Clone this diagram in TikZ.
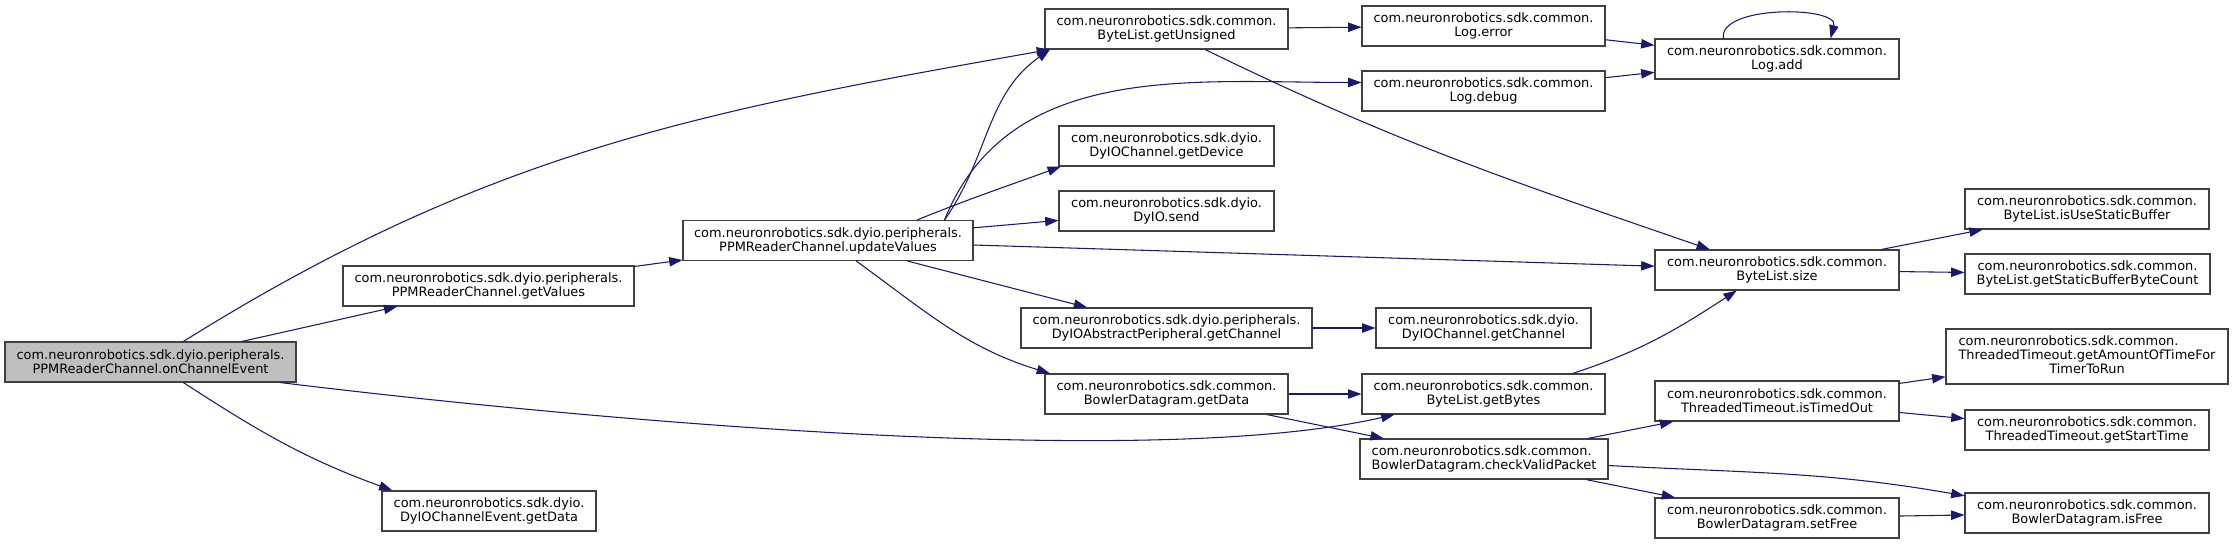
\documentclass[tikz,border=0pt]{standalone}
\usepackage{fontspec}
\setmainfont{DejaVu Sans}
\usetikzlibrary{arrows.meta}

\definecolor{cgedge}{HTML}{191970}
\definecolor{cgframe}{HTML}{404040}
\definecolor{cgroot}{HTML}{BFBFBF}

\begin{document}
\begin{tikzpicture}[
  x=0.75pt, y=0.75pt,
  fn/.style={rectangle, draw=cgframe, line width=0.8pt, fill=white,
             inner sep=0pt, minimum height=30pt, align=center,
             font=\fontsize{9.7}{10.5}\selectfont},
  root/.style={fn, fill=cgroot},
  bw/.style={minimum width=#1*0.75pt},
  call/.style={draw=cgedge, line width=0.8pt,
               -{Triangle[length=10pt, width=7pt]}}]

  \useasboundingbox (0,0) rectangle (2233,-544);

  % ---- caller and its direct callees ------------------------------------
  \node[root, bw=291] (oce) at (150.5,-362)
    {com.neuronrobotics.sdk.dyio.peripherals.\\PPMReaderChannel.onChannelEvent};
  \node[fn, bw=291] (gval) at (488.5,-286)
    {com.neuronrobotics.sdk.dyio.peripherals.\\PPMReaderChannel.getValues};
  \node[fn, bw=214] (evdata) at (489,-511)
    {com.neuronrobotics.sdk.dyio.\\DyIOChannelEvent.getData};
  \node[fn, bw=290] (upd) at (828,-240.5)
    {com.neuronrobotics.sdk.dyio.peripherals.\\PPMReaderChannel.updateValues};

  % ---- called from updateValues -----------------------------------------
  \node[fn, bw=243] (unsig) at (1166.5,-29)
    {com.neuronrobotics.sdk.common.\\ByteList.getUnsigned};
  \node[fn, bw=215] (device) at (1166.5,-146)
    {com.neuronrobotics.sdk.dyio.\\DyIOChannel.getDevice};
  \node[fn, bw=215] (send) at (1166.5,-211)
    {com.neuronrobotics.sdk.dyio.\\DyIO.send};
  \node[fn, bw=291] (abschan) at (1166.5,-328)
    {com.neuronrobotics.sdk.dyio.peripherals.\\DyIOAbstractPeripheral.getChannel};
  \node[fn, bw=243] (bdata) at (1166.5,-394)
    {com.neuronrobotics.sdk.common.\\BowlerDatagram.getData};

  % ---- next level --------------------------------------------------------
  \node[fn, bw=243] (lerr) at (1483.5,-26)
    {com.neuronrobotics.sdk.common.\\Log.error};
  \node[fn, bw=243] (ldbg) at (1483.5,-91)
    {com.neuronrobotics.sdk.common.\\Log.debug};
  \node[fn, bw=215] (chan) at (1483.5,-328)
    {com.neuronrobotics.sdk.dyio.\\DyIOChannel.getChannel};
  \node[fn, bw=243] (bytes) at (1483.5,-394)
    {com.neuronrobotics.sdk.common.\\ByteList.getBytes};
  \node[fn, bw=248, align=left] (valid) at (1484,-459)
    {com.neuronrobotics.sdk.common.\\BowlerDatagram.checkValidPacket};

  \node[fn, bw=244] (ladd) at (1777,-59)
    {com.neuronrobotics.sdk.common.\\Log.add};
  \node[fn, bw=244] (bsize) at (1777,-270)
    {com.neuronrobotics.sdk.common.\\ByteList.size};
  \node[fn, bw=244] (timed) at (1777,-401)
    {com.neuronrobotics.sdk.common.\\ThreadedTimeout.isTimedOut};
  \node[fn, bw=244] (setfree) at (1777,-518)
    {com.neuronrobotics.sdk.common.\\BowlerDatagram.setFree};

  % ---- leaves ------------------------------------------------------------
  \node[fn, bw=244] (static) at (2087,-209)
    {com.neuronrobotics.sdk.common.\\ByteList.isUseStaticBuffer};
  \node[fn, bw=245] (count) at (2087.5,-274)
    {com.neuronrobotics.sdk.common.\\ByteList.getStaticBufferByteCount};
  \node[fn, bw=282, minimum height=41.25pt] (amount) at (2087,-356.5)
    {\begin{tabular}{@{}c@{}}\multicolumn{1}{@{}l@{}}{com.neuronrobotics.sdk.common.}\\
     ThreadedTimeout.getAmountOfTimeFor\\TimerToRun\end{tabular}};
  \node[fn, bw=244] (stime) at (2087,-430)
    {com.neuronrobotics.sdk.common.\\ThreadedTimeout.getStartTime};
  \node[fn, bw=244] (isfree) at (2087,-513)
    {com.neuronrobotics.sdk.common.\\BowlerDatagram.isFree};

  % ---- calls -------------------------------------------------------------
  \draw[call] (oce.32) to[out=32, in=190] (unsig.190);
  \draw[call] (oce) -- (gval);
  \draw[call] (oce.-9) to[out=-7, in=193, looseness=0.6] (bytes.193);
  \draw[call] (oce.-32) to[out=-33, in=160] (evdata.168);
  \draw[call] (gval) -- (upd);

  \draw[call] (upd.10) to[out=55, in=215] (unsig.190);
  \draw[call] (upd.10) to[out=68, in=180] (ldbg.176);
  \draw[call] (upd.13) to[out=22, in=200] (device.191);
  \draw[call] (upd) -- (send);
  \draw[call] (upd) -- (bsize);
  \draw[call] (upd) -- (abschan);
  \draw[call] (upd.-36) to[out=-36, in=163] (bdata.170);

  \draw[call] (unsig) -- (lerr);
  \draw[call] (unsig.-28) to[out=-26, in=161] (bsize.163);
  \draw[call] (lerr) -- (ladd);
  \draw[call] (ldbg) -- (ladd);
  \draw[call] (ladd.159) .. controls +(100:34) and +(75:34) .. (ladd.21);
  \draw[call] (abschan) -- (chan);
  \draw[call] (bdata) -- (bytes);
  \draw[call] (bdata) -- (valid);
  \draw[call] (bytes.13) to[out=18, in=213] (bsize.207);

  \draw[call] (bsize) -- (static);
  \draw[call] (bsize) -- (count);
  \draw[call] (valid) -- (timed);
  \draw[call] (valid.-3) to[out=-3, in=170] (isfree.172);
  \draw[call] (valid) -- (setfree);
  \draw[call] (timed) -- (amount);
  \draw[call] (timed) -- (stime);
  \draw[call] (setfree) -- (isfree);
\end{tikzpicture}
\end{document}
